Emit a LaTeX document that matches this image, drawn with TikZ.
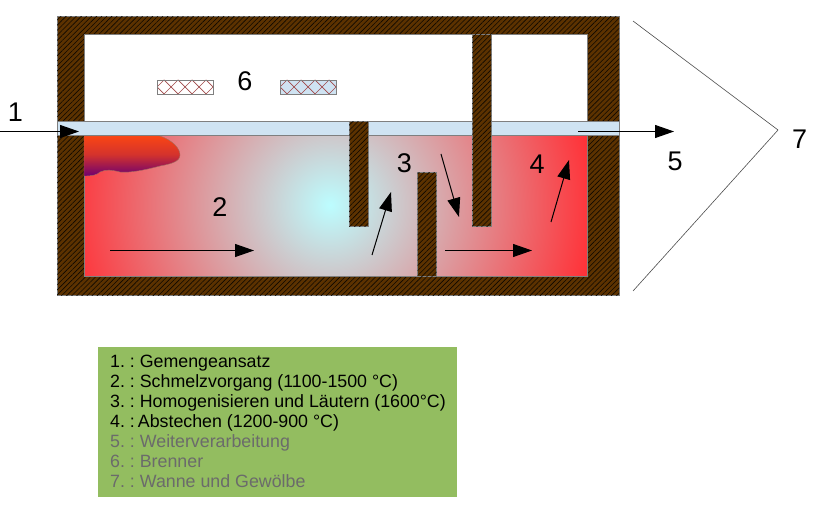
\documentclass[tikz,border=0pt]{standalone}
\usepackage{fontspec}
\setmainfont{Liberation Sans}
\usetikzlibrary{arrows.meta,patterns.meta}
\definecolor{wallbrown}{HTML}{5C3200}
\definecolor{edgegray}{HTML}{7F7F7F}
\definecolor{glassblue}{HTML}{CFE3F2}
\definecolor{legendgreen}{HTML}{93BD60}
\definecolor{legendgray}{HTML}{6B6B6B}
\definecolor{burnerblue}{HTML}{CFE3F2}
\definecolor{hatchred}{HTML}{A04848}
\definecolor{flametop}{HTML}{FF4810}
\definecolor{flamebot}{HTML}{6E0070}
\definecolor{meltcentre}{HTML}{BCFDFF}
\definecolor{meltedge}{HTML}{FF3238}
\pgfdeclareradialshading{meltshade}{\pgfpointorigin}{color(0bp)=(meltcentre); color(24bp)=(meltedge); color(50bp)=(meltedge)}
\tikzset{
  x=1pt,y=-1pt,
  wall/.style={draw=edgegray,line width=1pt,fill=wallbrown,postaction={pattern={Lines[angle=45,distance=3.6pt,line width=.6pt]},pattern color=black!85!wallbrown}},
  glass/.style={draw=edgegray,line width=1pt,fill=glassblue},
  flow/.style={draw=black,line width=1pt,-{Stealth[length=19pt,width=13pt,inset=0pt]}},
  guide/.style={draw=black!70,line width=.6pt},
  num/.style={font=\fontsize{27}{30}\selectfont,inner sep=0pt,text=black},
  legendline/.style={font=\fontsize{17.8}{20}\selectfont\frenchspacing,anchor=base west,inner sep=0pt,text=black},
  legendmuted/.style={legendline,text=legendgray},
  burner/.style={draw=edgegray,line width=.8pt},
}
\begin{document}
\begin{tikzpicture}
\useasboundingbox (0,0) rectangle (818,510);
% walls and chamber
\path[wall] (57,17) rectangle (619,295);
\path[draw=edgegray,line width=1pt,fill=white] (84,35) rectangle (587,122);
\begin{scope}
  \clip (84,136) rectangle (587,277);
  \shade[shading=meltshade] (330,205) circle[radius=275];
\end{scope}
\draw[edgegray,line width=1pt] (84,136) rectangle (587,277);
% flame
\shade[top color=flametop,bottom color=flamebot,middle color=flametop!70!flamebot,draw=edgegray!70!flametop,line width=.4pt]
  (84,136) -- (110,136) .. controls (130,133) and (150,134) .. (160,136)
  .. controls (172,140) and (180,148) .. (180,155)
  .. controls (180,162) and (170,164) .. (160,166)
  .. controls (145,170) and (130,173) .. (120,172)
  .. controls (112,170) and (106,169) .. (100,172)
  .. controls (97,175) and (92,176) .. (84,176) -- cycle;
% glass level
\path[glass] (57,122) rectangle (619,136);
% baffles
\path[wall] (349,122) rectangle (368,227);
\path[wall] (472,35) rectangle (491,227);
\path[wall] (417.5,173) rectangle (436.5,277);
% burners
\begin{scope}
  \clip (157,80) rectangle (213,94);
  \fill[white] (157,80) rectangle (213,94);
  \foreach \k in {0,1,2,3,4}{
    \draw[hatchred,line width=.7pt] (157+14*\k-7,80) -- (157+14*\k+7,94);
    \draw[hatchred,line width=.7pt] (157+14*\k+7,80) -- (157+14*\k-7,94);
  }
\end{scope}
\draw[burner] (157,80) rectangle (213,94);
\begin{scope}
  \clip (280,80) rectangle (336,94);
  \fill[burnerblue] (280,80) rectangle (336,94);
  \foreach \k in {0,1,2,3,4}{
    \draw[hatchred,line width=.7pt] (280+14*\k-7,80) -- (280+14*\k+7,94);
    \draw[hatchred,line width=.7pt] (280+14*\k+7,80) -- (280+14*\k-7,94);
  }
\end{scope}
\draw[burner] (280,80) rectangle (336,94);
% flow arrows
\coordinate (a1s) at (0,131.5);      \coordinate (a1e) at (79,131.5);
\coordinate (a2s) at (110,250.5);    \coordinate (a2e) at (254,250.5);
\coordinate (a3s) at (372,255);    \coordinate (a3e) at (391,192);
\coordinate (a4s) at (441,154);    \coordinate (a4e) at (459,217);
\coordinate (a5s) at (445,250.5);    \coordinate (a5e) at (532,250.5);
\coordinate (a6s) at (551,222);    \coordinate (a6e) at (569,160);
\coordinate (a7s) at (578,131.5);    \coordinate (a7e) at (674,131.5);
\foreach \n in {1,...,7}{ \draw[flow] (a\n s) -- (a\n e); }
% guide lines to label 7
\coordinate (g1) at (633,21);
\coordinate (g2) at (778,130);
\coordinate (g3) at (633,291);
\draw[guide] (g1) -- (g2) -- (g3);
% numbers
\node[num] (n1) at (15.5,112.5) {1};
\node[num] (n2) at (220,207.5) {2};
\node[num] (n3) at (404.5,163.5) {3};
\node[num] (n4) at (537,164.5) {4};
\node[num] (n5) at (675,161.5) {5};
\node[num] (n6) at (245,81.5) {6};
\node[num] (n7) at (799.5,139.5) {7};
% legend
\node[draw=none,fill=legendgreen,minimum width=359pt,minimum height=150pt,inner sep=0pt,anchor=north west] (legend) at (98,347) {};
\node[legendline] (l1) at (110,367) {1. : Gemengeansatz};
\node[legendline] (l2) at (110,387) {2. : Schmelzvorgang (1100-1500 °C)};
\node[legendline] (l3) at (110,407) {3. : Homogenisieren und Läutern (1600°C)};
\node[legendline] (l4) at (110,427) {4. :\hspace{3pt}Abstechen (1200-900 °C)};
\node[legendmuted] (l5) at (110,447) {5. : Weiterverarbeitung};
\node[legendmuted] (l6) at (110,467) {6. : Brenner};
\node[legendmuted] (l7) at (110,487) {7. : Wanne und Gewölbe};
\end{tikzpicture}
\end{document}
